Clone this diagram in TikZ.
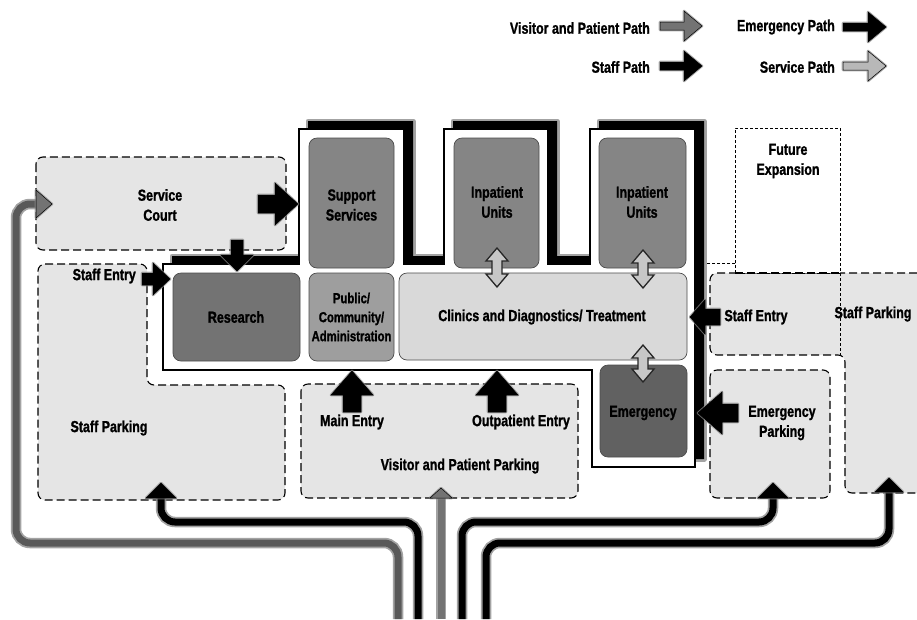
\documentclass[tikz,border=0pt]{standalone}
\usepackage{fontspec}
\setmainfont[FakeStretch=0.78,BoldFont={Liberation Sans Bold},BoldFeatures={FakeStretch=0.78,FakeBold=1.2}]{Liberation Sans}
\definecolor{lotgray}{gray}{0.9}
\definecolor{halo}{gray}{0.55}
\definecolor{visitgray}{gray}{0.45}
\definecolor{servgray}{gray}{0.72}
\newcommand{\BArrow}[7][draw=black,fill=black]{%
  % tip, angle, total length, head length, head half-width, shaft half-width
  \begin{scope}[shift={(#2)},rotate=#3]
    \path[draw=halo,line width=2.6pt,line join=round,opacity=.7]
      (0,0) -- (-#5,#6) -- (-#5,#7) -- (-#4,#7) -- (-#4,-#7) -- (-#5,-#7) -- (-#5,-#6) -- cycle;
    \path[#1,line width=.5pt,line join=miter]
      (0,0) -- (-#5,#6) -- (-#5,#7) -- (-#4,#7) -- (-#4,-#7) -- (-#5,-#7) -- (-#5,-#6) -- cycle;
  \end{scope}}
\newcommand{\DArrow}[3]{%
  % centre x, top y, bottom y : grey two-headed arrow
  \path[draw=black!85,fill=black!22,line width=1.3pt,line join=miter]
    (#1,#2) -- (#1+11,#2+13) -- (#1+5,#2+13) -- (#1+5,#3-13) -- (#1+11,#3-13)
    -- (#1,#3) -- (#1-11,#3-13) -- (#1-5,#3-13) -- (#1-5,#2+13) -- (#1-11,#2+13) -- cycle;}
\newcommand{\BuildingPath}{(163,264) -- (299,264) -- (299,129) -- (404,129) -- (404,264) -- (444,264) -- (444,129) -- (548,129) -- (548,264) -- (590,264) -- (590,129) -- (695,129) -- (695,467) -- (592,467) -- (592,370) -- (163,370) -- cycle}
\tikzset{
  lot/.style={draw=black,fill=lotgray,dash pattern=on 8pt off 4pt,line width=1.1pt,rounded corners=7pt},
  room/.style={draw=black!70,line width=.7pt,rounded corners=8pt},
  lbl/.style={font=\bfseries\fontsize{16}{20}\selectfont,align=center,text=black,inner sep=0pt},
  lblsm/.style={font=\bfseries\fontsize{14.5}{19}\selectfont,align=center,text=black,inner sep=0pt},
  lblr/.style={lbl,anchor=east},
  route/.style={line width=7pt,rounded corners=14pt,draw=black},
  routehalo/.style={line width=10.5pt,rounded corners=14pt,draw=halo,opacity=.8},
}
\begin{document}
\begin{tikzpicture}[x=1pt,y=-1pt]
\useasboundingbox (0,0) rectangle (917,619);
% parking and court areas
\path[lot] (36,157) rectangle (286,250);
\path[lot] (38,264) -- (147,264) -- (147,385) -- (285,385) -- (285,500) -- (38,500) -- cycle;
\path[lot] (301,384) rectangle (578,498);
\path[lot] (917,273) -- (710,273) -- (710,355) -- (845,355) -- (845,493) -- (917,493);
\path[lot] (710,370) rectangle (830,498);
% future expansion
\draw[densely dashed,line width=.5pt,fill=white] (735,263) -- (735,128) -- (840,128) -- (840,273) -- (735,273) -- cycle;
\draw[densely dashed,line width=.5pt] (735,263) -- (706,263) (840,273) -- (840,355);
\draw[dash pattern=on 8pt off 4pt,line width=1.1pt] (735,273) -- (840,273);
% building
\path[draw=halo,line width=5pt,line join=round,xshift=9pt,yshift=8pt,opacity=.8] \BuildingPath;
\path[fill=black,xshift=9pt,yshift=8pt] \BuildingPath;
\path[draw=black,fill=white,line width=1.1pt] \BuildingPath;
% rooms
\path[room,fill=black!48] (309,138) rectangle (394,268);
\path[room,fill=black!55] (173,273) rectangle (300,361);
\path[room,fill=black!38] (309,273) rectangle (394,361);
\path[room,fill=black!15] (399,273) rectangle (687,360);
\path[room,fill=black!48] (454,138) rectangle (539,268);
\path[room,fill=black!48] (599,138) rectangle (686,268);
\path[room,fill=black!62] (600,365) rectangle (687,457);
\node[lbl] (nsupport) at (351.5,205) {Support\\Services};
\node[lbl] (nresearch) at (236,317) {Research};
\node[lblsm] (npublic) at (351.5,317) {Public/\\Community/\\Administration};
\node[lbl] (nclinics) at (542,317) {Clinics and Diagnostics/ Treatment};
\node[lbl] (ninp1) at (497,202) {Inpatient\\Units};
\node[lbl] (ninp2) at (642,202) {Inpatient\\Units};
\node[lbl] (nemerg) at (643,413) {Emergency};
\node[lbl] (ncourt) at (160,205) {Service\\Court};
\node[lbl] (nfuture) at (788,161) {Future\\Expansion};
\node[lblr] (nstaffl) at (136,276) {Staff Entry};
\node[lbl] (nstaffr) at (756,317) {Staff Entry};
\node[lbl] (nsparkr) at (873,314) {Staff Parking};
\node[lbl] (neparking) at (782,423) {Emergency\\Parking};
\node[lbl] (nsparkl) at (109,428) {Staff Parking};
\node[lbl] (nmain) at (352,422) {Main Entry};
\node[lbl] (noutp) at (521,422) {Outpatient Entry};
\node[lbl] (nvisit) at (460,466) {Visitor and Patient Parking};
% routes
\coordinate (rs1) at (161,490); \coordinate (rs2) at (161,522); \coordinate (rs3) at (418,522); \coordinate (rs4) at (418,619);
\coordinate (re1) at (773,490); \coordinate (re2) at (773,522); \coordinate (re3) at (462,522); \coordinate (re4) at (462,619);
\coordinate (rr1) at (889,485); \coordinate (rr2) at (889,543); \coordinate (rr3) at (486,543); \coordinate (rr4) at (486,619);
\coordinate (sv1) at (40,204); \coordinate (sv2) at (16,204); \coordinate (sv3) at (16,543); \coordinate (sv4) at (398,543); \coordinate (sv5) at (398,619);
\coordinate (vi1) at (441,495); \coordinate (vi2) at (441,619);
\draw[routehalo] (sv1) -- (sv2) -- (sv3) -- (sv4) -- (sv5);
\draw[route,draw=black!65] (sv1) -- (sv2) -- (sv3) -- (sv4) -- (sv5);
\draw[routehalo] (rs1) -- (rs2) -- (rs3) -- (rs4);
\draw[route] (rs1) -- (rs2) -- (rs3) -- (rs4);
\draw[routehalo] (re1) -- (re2) -- (re3) -- (re4);
\draw[route] (re1) -- (re2) -- (re3) -- (re4);
\draw[routehalo] (rr1) -- (rr2) -- (rr3) -- (rr4);
\draw[route] (rr1) -- (rr2) -- (rr3) -- (rr4);
\draw[routehalo] (vi1) -- (vi2);
\draw[route,draw=visitgray] (vi1) -- (vi2);
% route heads
\BArrow{161,483}{90}{15}{15}{15}{3}
\BArrow{773,483}{90}{15}{15}{15}{3}
\BArrow{889,478}{90}{14}{14}{14}{3}
\BArrow[draw=black,fill=visitgray]{441,488}{90}{10}{10}{11}{3}
\BArrow[draw=black,fill=visitgray]{52,204}{0}{16}{16}{14}{3}
% block arrows
\BArrow{298,204}{0}{40}{23}{21}{9}
\BArrow{237,271}{270}{31}{16}{16}{6}
\BArrow{170,279}{0}{28}{17}{16}{6}
\BArrow{352,371}{90}{41}{24}{21}{9}
\BArrow{497,371}{90}{41}{24}{21}{9}
\BArrow{690,317}{180}{30}{15}{17}{8}
\BArrow{698,413}{180}{40}{24}{21}{9}
\DArrow{497}{248}{287}
\DArrow{643}{250}{288}
\DArrow{643}{345}{382}
% legend
\node[lblr] (lvisit) at (650,28) {Visitor and Patient Path};
\node[lblr] (lstaff) at (650,67) {Staff Path};
\node[lblr] (lemerg) at (835,27) {Emergency Path};
\node[lblr] (lserv) at (835,67) {Service Path};
\BArrow[draw=black,fill=visitgray]{702,26}{0}{42}{18}{15}{4}
\BArrow{702,66}{0}{42}{18}{15}{4}
\BArrow{886,27}{0}{43}{18}{15}{4}
\BArrow[draw=black,fill=servgray]{886,66}{0}{43}{18}{15}{4}
\end{tikzpicture}
\end{document}
